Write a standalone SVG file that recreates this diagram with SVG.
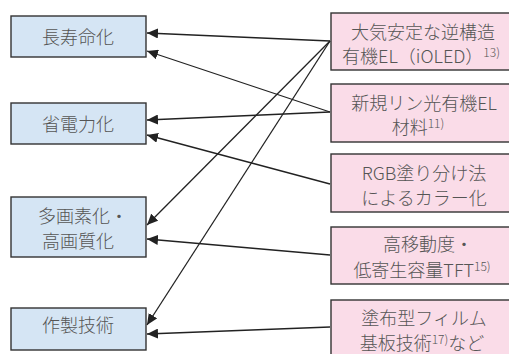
<svg xmlns="http://www.w3.org/2000/svg" width="509" height="354" viewBox="0 0 509 354">
<defs>
<style>
.l{fill:#d5e5f4;stroke:#333;stroke-width:1.4}
.r{fill:#fadce8;stroke:#333;stroke-width:1.4}
text{font-family:"Noto Sans CJK JP","Noto Sans",sans-serif;font-size:18px;font-weight:300;fill:#555;text-anchor:middle}
.s{font-size:12px}
.c{stroke:#222;stroke-width:1.3;fill:none;marker-end:url(#a)}
</style>
<marker id="a" markerUnits="userSpaceOnUse" markerWidth="12" markerHeight="10" refX="11" refY="5" orient="auto">
<path d="M0,0 L11,5 L0,10 Z" fill="#222"/>
</marker>
</defs>
<rect width="509" height="354" fill="#fff"/>
<g id="n1"><rect class="l" x="11" y="16" width="135" height="41"/><text x="78" y="44">長寿命化</text></g>
<g id="n2"><rect class="l" x="11" y="103" width="135" height="41"/><text x="78" y="131">省電力化</text></g>
<g id="n3"><rect class="l" x="11" y="197" width="135" height="60"/><text x="83" y="223">多画素化・</text><text x="78" y="248">高画質化</text></g>
<g id="n4"><rect class="l" x="11" y="308" width="135" height="42"/><text x="78" y="332">作製技術</text></g>
<g id="m1"><rect class="r" x="331" y="13" width="186" height="57"/><text x="423" y="39">大気安定な逆構造</text><text x="421" y="63">有機EL（iOLED）<tspan class="s" dy="-6">13)</tspan></text></g>
<g id="m2"><rect class="r" x="331" y="84" width="186" height="58"/><text x="424" y="110">新規リン光有機EL</text><text x="418" y="134">材料<tspan class="s" dy="-6">11)</tspan></text></g>
<g id="m3"><rect class="r" x="331" y="154" width="186" height="58"/><text x="424" y="180">RGB塗り分け法</text><text x="424" y="205">によるカラー化</text></g>
<g id="m4"><rect class="r" x="331" y="227" width="186" height="57"/><text x="428" y="251">高移動度・</text><text x="422" y="277">低寄生容量TFT<tspan class="s" dy="-6">15)</tspan></text></g>
<g id="m5"><rect class="r" x="331" y="300" width="186" height="60"/><text x="424" y="325">塗布型フィルム</text><text x="422" y="350">基板技術<tspan class="s" dy="-6">17)</tspan><tspan dy="6">など</tspan></text></g>
<g id="connectors">
<line class="c" x1="330" y1="41" x2="147" y2="33"/>
<line class="c" x1="330" y1="41" x2="147" y2="225"/>
<line class="c" x1="330" y1="41" x2="147" y2="325"/>
<line class="c" x1="330" y1="112" x2="147" y2="51"/>
<line class="c" x1="330" y1="112" x2="147" y2="120"/>
<line class="c" x1="330" y1="184" x2="147" y2="135"/>
<line class="c" x1="330" y1="255" x2="147" y2="239"/>
<line class="c" x1="330" y1="327" x2="147" y2="334"/>
</g>
</svg>
